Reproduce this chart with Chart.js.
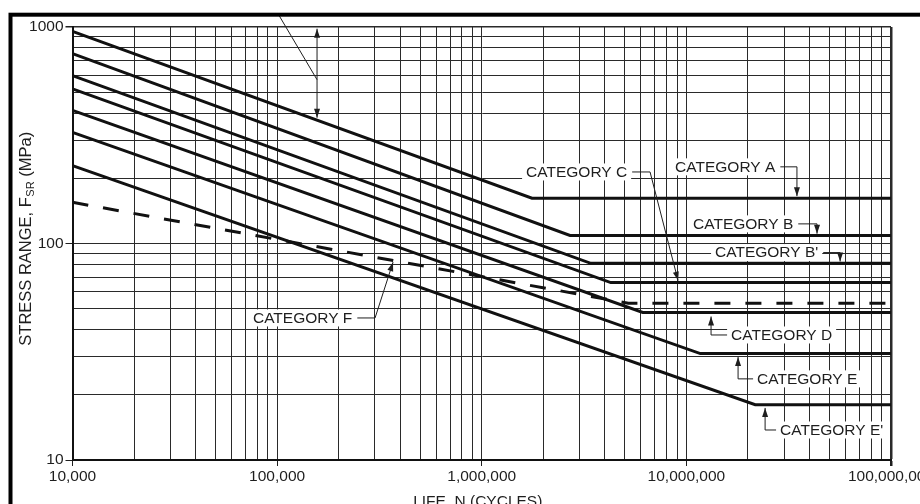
<!DOCTYPE html>
<html>
<head>
<meta charset="utf-8">
<title>Fatigue design curves</title>
<script src="https://cdn.jsdelivr.net/npm/chart.js@4.4.1/dist/chart.umd.min.js"></script>
<style>
    html, body { margin: 0; padding: 0; background: #ffffff; }
    #sn_graph { display: block; }
</style>
</head>
<body>
<canvas id="sn_graph" width="920" height="504"></canvas>
<script>
// stress range vs. life
var categories = ['A', 'B', "B'", 'C', 'D', 'E', "E'", 'F'];
var categoryLabels = ['CATEGORY A', 'CATEGORY B', "CATEGORY B'", 'CATEGORY C', 'CATEGORY D', 'CATEGORY E', "CATEGORY E'", 'CATEGORY F'];
var startCycles = 10000;
var endCycles = 100000000;
var startStress = [955, 753, 596, 518, 412, 326, 229, 155];          // MPa at 10,000 cycles
var kneeCycles = [1.76e6, 2.7e6, 3.41e6, 4.27e6, 6.12e6, 1.17e7, 2.17e7, 5.2e6];
var thresholdStress = [162, 109, 81, 66, 48, 31, 18, 53];            // MPa, flat part

var xTickValues = [1e4, 1e5, 1e6, 1e7, 1e8];
var xTickLabels = ['10,000', '100,000', '1,000,000', '10,000,000', '100,000,000'];
var yTickValues = [10, 100, 1000];
var yTickLabels = ['10', '100', '1000'];

var xTitle = 'LIFE, N (CYCLES)';
var yTitle = ['STRESS RANGE, F', 'SR', ' (MPa)'];

// callouts in data units (cycles, MPa): text position, then leader points ending at the arrow tip
var callouts = [
    {cat: 0, at: [8.81e6, 226], side: 'right', path: [[3.47e7, 226], [3.47e7, 165.5]]},
    {cat: 1, at: [1.078e7, 123.2], side: 'right', path: [[4.35e7, 123.2], [4.35e7, 111]]},
    {cat: 2, at: [1.381e7, 90.8], side: 'right', path: [[5.64e7, 90.8], [5.64e7, 82.6]]},
    {cat: 3, at: [1.647e6, 214], side: 'right', path: [[6.645e6, 214], [9.11e6, 67.4]]},
    {cat: 4, at: [1.654e7, 37.8], side: 'left', path: [[1.32e7, 37.8], [1.32e7, 46]]},
    {cat: 5, at: [2.216e7, 23.7], side: 'left', path: [[1.789e7, 23.7], [1.789e7, 29.9]]},
    {cat: 6, at: [2.87e7, 13.76], side: 'left', path: [[2.425e7, 13.76], [2.425e7, 17.4]]},
    {cat: 7, at: [7.62e4, 45.3], side: 'right', path: [[3.01e5, 45.3], [3.685e5, 82]]}
];
var rangeArrow = {cycles: 1.567e5, top: 982, bottom: 381, leader: [[1.01e5, 1152], [1.567e5, 571]]};

var fontFamily = "'Liberation Sans', Arial, Helvetica, sans-serif";
var inkColor = '#1e1e1e';

function gridValues(fromExp, toExp){
    var values = [];
    for(var e=fromExp; e<toExp; e++){
        for(var m=1; m<10; m++){
            values.push(m * Math.pow(10, e));
        }
    }
    values.push(Math.pow(10, toExp));
    return values;
}

function isDecade(v){
    var l = Math.log10(v);
    return Math.abs(l - Math.round(l)) < 1e-9;
}

function arrowHead(ctx, from, tip){
    var ang = Math.atan2(tip[1]-from[1], tip[0]-from[0]);
    var len = 9, half = 3;
    ctx.beginPath();
    ctx.moveTo(tip[0], tip[1]);
    ctx.lineTo(tip[0] - len*Math.cos(ang) + half*Math.sin(ang), tip[1] - len*Math.sin(ang) - half*Math.cos(ang));
    ctx.lineTo(tip[0] - len*Math.cos(ang) - half*Math.sin(ang), tip[1] - len*Math.sin(ang) + half*Math.cos(ang));
    ctx.closePath();
    ctx.fill();
}

var calloutPlugin = {
    id: 'callouts',
    afterDatasetsDraw: function(chart){
        var ctx = chart.ctx, xs = chart.scales.x, ys = chart.scales.y;
        function px(p){ return [xs.getPixelForValue(p[0]), ys.getPixelForValue(p[1])]; }
        ctx.save();
        ctx.font = '15.5px ' + fontFamily;
        ctx.textBaseline = 'middle';
        ctx.textAlign = 'left';
        ctx.lineWidth = 1;
        ctx.strokeStyle = inkColor;
        callouts.forEach(function(c){
            var text = categoryLabels[c.cat];
            var pos = px(c.at);
            var w = ctx.measureText(text).width;
            ctx.fillStyle = '#ffffff';
            ctx.fillRect(pos[0]-4, pos[1]-8.5, w+8, 17);
            ctx.fillStyle = inkColor;
            ctx.fillText(text, pos[0], pos[1]+0.5);
            var pts = [c.side == 'right' ? [pos[0]+w+5, pos[1]] : [pos[0]-4, pos[1]]];
            c.path.forEach(function(p){ pts.push(px(p)); });
            ctx.beginPath();
            ctx.moveTo(pts[0][0], pts[0][1]);
            for(var i=1; i<pts.length; i++){
                ctx.lineTo(pts[i][0], pts[i][1]);
            }
            ctx.stroke();
            arrowHead(ctx, pts[pts.length-2], pts[pts.length-1]);
        });

        //double arrow near the top with its leader
        var a = px([rangeArrow.cycles, rangeArrow.top]);
        var b = px([rangeArrow.cycles, rangeArrow.bottom]);
        ctx.beginPath();
        ctx.moveTo(a[0], a[1]);
        ctx.lineTo(b[0], b[1]);
        ctx.stroke();
        arrowHead(ctx, b, a);
        arrowHead(ctx, a, b);
        var l0 = px(rangeArrow.leader[0]), l1 = px(rangeArrow.leader[1]);
        ctx.beginPath();
        ctx.moveTo(l0[0], l0[1]);
        ctx.lineTo(l1[0], l1[1]);
        ctx.stroke();
        ctx.restore();
    },
    afterDraw: function(chart){
        var ctx = chart.ctx, area = chart.chartArea;
        ctx.save();
        //outer frame
        ctx.lineWidth = 4;
        ctx.strokeStyle = '#000000';
        ctx.strokeRect(10.5, 14.7, 1000, 1000);

        ctx.fillStyle = inkColor;
        ctx.textBaseline = 'alphabetic';
        ctx.font = '15.5px ' + fontFamily;
        ctx.textAlign = 'center';
        ctx.fillText(xTitle, (area.left + area.right)/2 - 4, 505.5);

        //y title with subscript
        var big = '16.5px ' + fontFamily, small = '11px ' + fontFamily;
        ctx.font = big;
        var w0 = ctx.measureText(yTitle[0]).width;
        var w2 = ctx.measureText(yTitle[2]).width;
        ctx.font = small;
        var w1 = ctx.measureText(yTitle[1]).width;
        var total = w0 + w1 + w2;
        ctx.translate(30.5, (area.top + area.bottom)/2 - 4.5);
        ctx.rotate(-Math.PI/2);
        ctx.textAlign = 'left';
        var x0 = -total/2;
        ctx.font = big;
        ctx.fillText(yTitle[0], x0, 0);
        ctx.font = small;
        ctx.fillText(yTitle[1], x0 + w0 + 0.5, 3);
        ctx.font = big;
        ctx.fillText(yTitle[2], x0 + w0 + w1 + 0.5, 0);
        ctx.restore();
    }
};

var datasets = categories.map(function(cat, i){
    return {
        label: 'Category ' + cat,
        data: [
            {x: startCycles, y: startStress[i]},
            {x: kneeCycles[i], y: thresholdStress[i]},
            {x: endCycles, y: thresholdStress[i]}
        ],
        borderColor: '#111111',
        borderWidth: 3,
        borderDash: cat == 'F' ? [16, 15] : [],
        pointRadius: 0,
        tension: 0,
        fill: false
    };
});

Chart.defaults.font.family = fontFamily;
Chart.defaults.color = inkColor;

var chart = new Chart(document.getElementById('sn_graph').getContext('2d'), {
    type: 'line',
    data: { datasets: datasets },
    options: {
        responsive: false,
        animation: false,
        devicePixelRatio: 1,
        layout: { padding: { top: 27, right: 29, bottom: 0, left: 0 } },
        plugins: {
            legend: { display: false },
            tooltip: { enabled: false }
        },
        scales: {
            x: {
                type: 'logarithmic',
                min: 1e4,
                max: 1e8,
                afterBuildTicks: function(scale){
                    scale.ticks = gridValues(4, 8).map(function(v){ return {value: v}; });
                },
                afterFit: function(scale){
                    scale.height = 44;
                    scale.paddingLeft = 0;
                    scale.paddingRight = 0;
                },
                ticks: {
                    autoSkip: false,
                    maxRotation: 0,
                    minRotation: 0,
                    padding: 1,
                    color: inkColor,
                    font: { size: 15.5 },
                    callback: function(value){
                        var i = xTickValues.indexOf(value);
                        return i < 0 ? '' : xTickLabels[i];
                    }
                },
                grid: {
                    color: '#2a2a2a',
                    lineWidth: function(c){ return c.tick && c.tick.value == 1e8 ? 2.5 : 1; },
                    tickLength: 6,
                    tickColor: function(c){ return c.tick && isDecade(c.tick.value) ? inkColor : 'rgba(0,0,0,0)'; }
                },
                border: { color: '#111111', width: 2 }
            },
            y: {
                type: 'logarithmic',
                min: 10,
                max: 1000,
                afterBuildTicks: function(scale){
                    scale.ticks = gridValues(1, 3).map(function(v){ return {value: v}; });
                },
                afterFit: function(scale){
                    scale.width = 72.5;
                    scale.paddingTop = 0;
                    scale.paddingBottom = 0;
                },
                ticks: {
                    autoSkip: false,
                    padding: 2,
                    color: inkColor,
                    font: { size: 15.5 },
                    callback: function(value){
                        var i = yTickValues.indexOf(value);
                        return i < 0 ? '' : yTickLabels[i];
                    }
                },
                grid: {
                    color: '#2a2a2a',
                    lineWidth: function(c){ return c.tick && c.tick.value == 1000 ? 1.5 : 1; },
                    tickLength: 7,
                    tickColor: function(c){ return c.tick && isDecade(c.tick.value) ? inkColor : 'rgba(0,0,0,0)'; }
                },
                border: { color: '#111111', width: 2 }
            }
        }
    },
    plugins: [calloutPlugin]
});
</script>
</body>
</html>
